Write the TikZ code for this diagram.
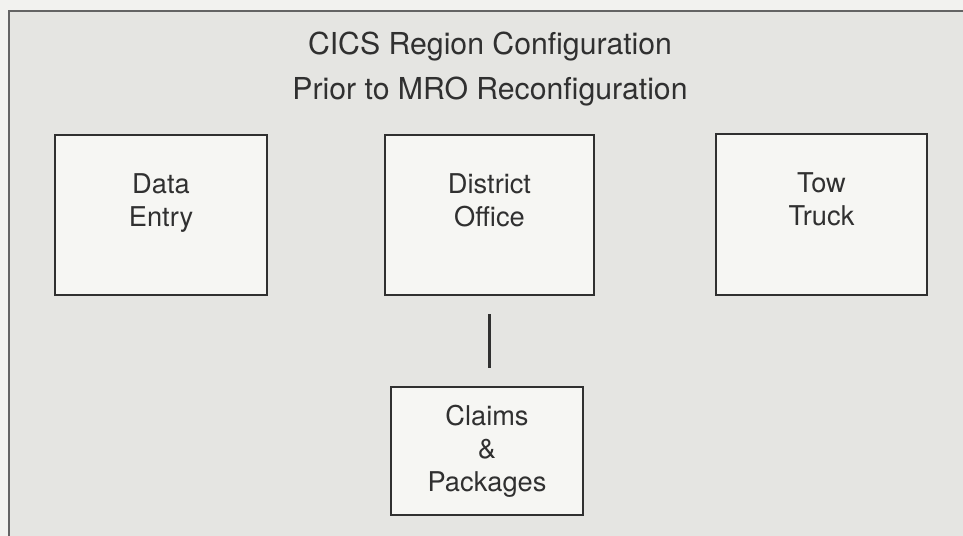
\documentclass[tikz,border=0pt]{standalone}
\usepackage{fontspec}
\setmainfont{TeX Gyre Heros}
\usetikzlibrary{positioning}
\definecolor{paper}{HTML}{F2F2EF}
\definecolor{panel}{HTML}{E5E5E2}
\definecolor{boxfill}{HTML}{F6F6F3}
\definecolor{ink}{HTML}{303030}

\begin{document}
\begin{tikzpicture}[x=0.02cm,y=-0.02cm,
    region/.style={rectangle,draw=ink,line width=1.5pt,fill=boxfill,inner sep=0pt},
    caption/.style={text=ink,font=\fontsize{15.5}{18.7}\selectfont,align=center},
    heading/.style={text=ink,font=\fontsize{17.2}{20}\selectfont,anchor=base}]
    \useasboundingbox [fill=paper] (0,0) rectangle (963,536);
    % background panel
    \path [fill=panel] (9,11) rectangle (963,536);
    \path [draw=ink!75,line width=1pt] (9,536) -- (9,11) -- (963,11);
    \node (title) at (490,55) [heading] {CICS Region Configuration};
    \node (subtitle) at (490,100) [heading] {Prior to MRO Reconfiguration};
    % regions
    \node (dataentry) at (161,215) [region,minimum width=4.24cm,minimum height=3.2cm] {};
    \node (district) at (489.5,215) [region,minimum width=4.18cm,minimum height=3.2cm] {};
    \node (towtruck) at (821.5,214.5) [region,minimum width=4.22cm,minimum height=3.22cm] {};
    \node (claims) at (487,451) [region,minimum width=3.84cm,minimum height=2.56cm] {};
    \node (dataentrytext) at ([yshift=0.24cm]dataentry.center) [caption] {Data\\Entry};
    \node (districttext) at ([yshift=0.3cm]district.center) [caption] {District\\Office};
    \node (towtrucktext) at ([yshift=0.3cm]towtruck.center) [caption] {Tow\\Truck};
    \node (claimstext) at (claims.center) [caption] {Claims\\\&\\Packages};
    \path [draw=ink,line width=1.4pt,shorten <=0.36cm,shorten >=0.36cm] (district.south) -- (district.south |- claims.north);
\end{tikzpicture}
\end{document}
